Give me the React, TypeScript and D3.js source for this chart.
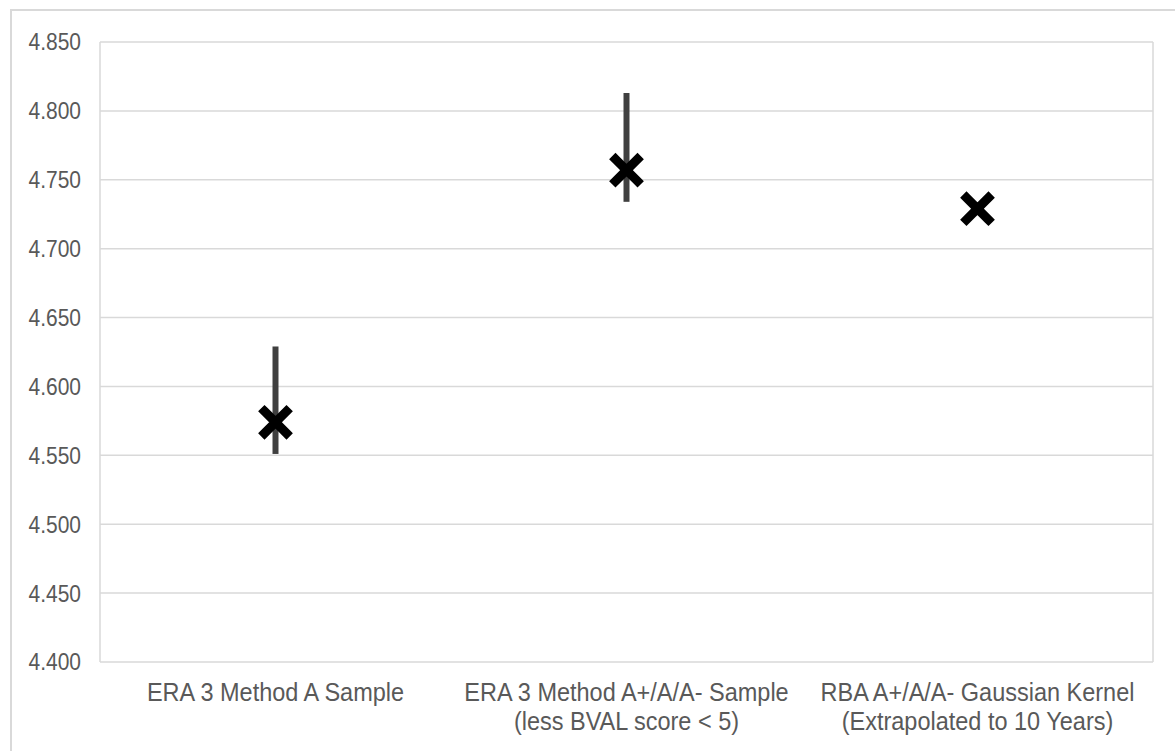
import React from "react";
import * as d3 from "d3";

// Categories (two-line axis labels) and the estimates with their low/high range
const categories: string[][] = [
  ["ERA 3 Method A Sample"],
  ["ERA 3 Method A+/A/A- Sample", "(less BVAL score < 5)"],
  ["RBA A+/A/A- Gaussian Kernel", "(Extrapolated to 10 Years)"],
];
const estimates: number[] = [4.574, 4.757, 4.729];
const lows: (number | null)[] = [4.551, 4.734, null];
const highs: (number | null)[] = [4.629, 4.813, null];
const yTicks: number[] = [4.4, 4.45, 4.5, 4.55, 4.6, 4.65, 4.7, 4.75, 4.8, 4.85];

const W = 1175;
const H = 751;
const plot = { left: 100, right: 1153, top: 42, bottom: 662 };
const grid = "#d9d9d9";
const textColor = "#595959";
const font = "'Liberation Sans', Arial, sans-serif";

export default function App() {
  const x = d3
    .scaleBand<number>()
    .domain(categories.map((_, i) => i))
    .range([plot.left, plot.right])
    .padding(0);
  const y = d3.scaleLinear().domain([4.4, 4.85]).range([plot.bottom, plot.top]);
  const fmt = d3.format(".3f");
  const cx = (i: number) => (x(i) as number) + x.bandwidth() / 2;
  const arm = 11;

  return (
    <svg
      width={W}
      height={H}
      style={{ position: "absolute", left: 0, top: 0, background: "#fff" }}
    >
      {/* chart frame */}
      <rect x={11} y={10} width={W + 40} height={H + 40} fill="#fff" stroke={grid} strokeWidth={2} />

      {/* horizontal gridlines */}
      {yTicks.map((t) => (
        <line key={t} x1={plot.left} x2={plot.right} y1={y(t)} y2={y(t)} stroke={grid} strokeWidth={1.5} />
      ))}
      {/* plot area sides */}
      <line x1={plot.left} x2={plot.left} y1={plot.top} y2={plot.bottom} stroke={grid} strokeWidth={1.5} />
      <line x1={plot.right} x2={plot.right} y1={plot.top} y2={plot.bottom} stroke={grid} strokeWidth={1.5} />

      {/* y tick labels, slightly stretched vertically */}
      {yTicks.map((t) => (
        <text
          key={"l" + t}
          transform={`translate(${plot.left - 19},${y(t)}) scale(1,1.12)`}
          dy="0.36em"
          textAnchor="end"
          fill={textColor}
          fontFamily={font}
          fontSize={21}
        >
          {fmt(t)}
        </text>
      ))}

      {/* category labels */}
      {categories.map((lines, i) =>
        lines.map((s, j) => (
          <text
            key={"c" + i + "-" + j}
            transform={`translate(${cx(i)},${701 + j * 29}) scale(1,1.08)`}
            textAnchor="middle"
            fill={textColor}
            fontFamily={font}
            fontSize={23.5}
          >
            {s}
          </text>
        ))
      )}

      {/* range bars */}
      {estimates.map((_, i) =>
        lows[i] != null && highs[i] != null ? (
          <line
            key={"e" + i}
            x1={cx(i)}
            x2={cx(i)}
            y1={y(lows[i] as number)}
            y2={y(highs[i] as number)}
            stroke="#404040"
            strokeWidth={6}
          />
        ) : null
      )}

      {/* X markers */}
      {estimates.map((v, i) => (
        <path
          key={"m" + i}
          transform={`translate(${cx(i)},${y(v)})`}
          d={`M${-arm},${-arm}L${arm},${arm}M${-arm},${arm}L${arm},${-arm}`}
          stroke="#000"
          strokeWidth={9}
          strokeLinecap="square"
          fill="none"
        />
      ))}
    </svg>
  );
}
